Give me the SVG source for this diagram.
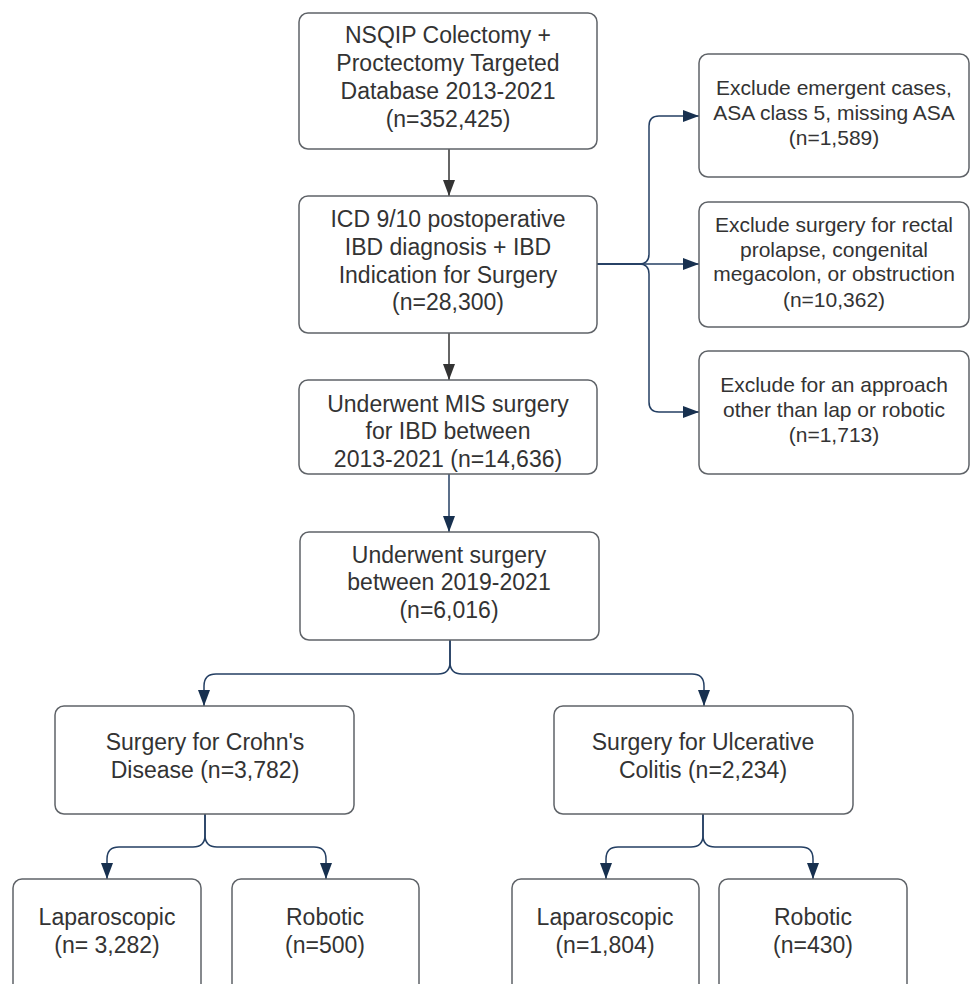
<svg xmlns="http://www.w3.org/2000/svg" width="970" height="984" viewBox="0 0 970 984">
<style>
.box{fill:#ffffff;stroke:#5f6368;stroke-width:1.5}
.t{font-family:"Liberation Sans",Arial,sans-serif;font-size:23px;fill:#333333;text-anchor:middle}
.s{font-family:"Liberation Sans",Arial,sans-serif;font-size:21px;fill:#333333;text-anchor:middle}
.cg{fill:none;stroke:#333333;stroke-width:1.5}
.cn{fill:none;stroke:#243f63;stroke-width:1.5}
</style>
<defs>
<marker id="ag" markerUnits="userSpaceOnUse" markerWidth="16" markerHeight="12" refX="16" refY="6" orient="auto">
<path d="M0,0 L16,6 L0,12 z" fill="#333333"/>
</marker>
<marker id="an" markerUnits="userSpaceOnUse" markerWidth="16" markerHeight="12" refX="16" refY="6" orient="auto">
<path d="M0,0 L16,6 L0,12 z" fill="#17304f"/>
</marker>
</defs>
<rect width="970" height="984" fill="#ffffff"/>
<g id="connectors">
<path class="cg" d="M449,149 V196" marker-end="url(#ag)"/>
<path class="cg" d="M449,333 V380" marker-end="url(#ag)"/>
<path class="cn" d="M449,474 V532" marker-end="url(#an)"/>
<path class="cn" d="M597,264 H639 Q649,264 649,254 V126 Q649,116 659,116 H699" marker-end="url(#an)"/>
<path class="cn" d="M597,264 H699" marker-end="url(#an)"/>
<path class="cn" d="M597,264 H639 Q649,264 649,274 V402 Q649,412 659,412 H699" marker-end="url(#an)"/>
<path class="cn" d="M450,640 V662 Q450,674 438,674 H216 Q204,674 204,686 V706" marker-end="url(#an)"/>
<path class="cn" d="M450,640 V662 Q450,674 462,674 H692 Q704,674 704,686 V706" marker-end="url(#an)"/>
<path class="cn" d="M205,814 V835 Q205,847 193,847 H119 Q107,847 107,859 V879" marker-end="url(#an)"/>
<path class="cn" d="M205,814 V835 Q205,847 217,847 H314 Q326,847 326,859 V879" marker-end="url(#an)"/>
<path class="cn" d="M703,814 V835 Q703,847 691,847 H618 Q606,847 606,859 V879" marker-end="url(#an)"/>
<path class="cn" d="M703,814 V835 Q703,847 715,847 H801 Q813,847 813,859 V879" marker-end="url(#an)"/>
</g>
<g id="n1">
<rect class="box" x="299" y="13" width="298" height="136" rx="9"/>
<text class="t" x="448" y="43">NSQIP Colectomy +</text>
<text class="t" x="448" y="71">Proctectomy Targeted</text>
<text class="t" x="448" y="99">Database 2013-2021</text>
<text class="t" x="448" y="127">(n=352,425)</text>
</g>
<g id="n2">
<rect class="box" x="299" y="196" width="298" height="137" rx="9"/>
<text class="t" x="448" y="227">ICD 9/10 postoperative</text>
<text class="t" x="448" y="255">IBD diagnosis + IBD</text>
<text class="t" x="448" y="283">Indication for Surgery</text>
<text class="t" x="448" y="310">(n=28,300)</text>
</g>
<g id="n3">
<rect class="box" x="299" y="380" width="298" height="94" rx="9"/>
<text class="t" x="448" y="412">Underwent MIS surgery</text>
<text class="t" x="448" y="439">for IBD between</text>
<text class="t" x="448" y="467">2013-2021 (n=14,636)</text>
</g>
<g id="n4">
<rect class="box" x="300" y="532" width="299" height="108" rx="9"/>
<text class="t" x="449" y="563">Underwent surgery</text>
<text class="t" x="449" y="590">between 2019-2021</text>
<text class="t" x="449" y="618">(n=6,016)</text>
</g>
<g id="e1">
<rect class="box" x="699" y="54" width="270" height="123" rx="9"/>
<text class="s" x="834" y="95">Exclude emergent cases,</text>
<text class="s" x="834" y="120">ASA class 5, missing ASA</text>
<text class="s" x="834" y="145">(n=1,589)</text>
</g>
<g id="e2">
<rect class="box" x="699" y="202" width="270" height="125" rx="9"/>
<text class="s" x="834" y="232">Exclude surgery for rectal</text>
<text class="s" x="834" y="257">prolapse, congenital</text>
<text class="s" x="834" y="281">megacolon, or obstruction</text>
<text class="s" x="834" y="307">(n=10,362)</text>
</g>
<g id="e3">
<rect class="box" x="699" y="351" width="270" height="123" rx="9"/>
<text class="s" x="834" y="392">Exclude for an approach</text>
<text class="s" x="834" y="417">other than lap or robotic</text>
<text class="s" x="834" y="442">(n=1,713)</text>
</g>
<g id="cd">
<rect class="box" x="55" y="706" width="299" height="108" rx="9"/>
<text class="t" x="205" y="750">Surgery for Crohn's</text>
<text class="t" x="205" y="778">Disease (n=3,782)</text>
</g>
<g id="uc">
<rect class="box" x="554" y="706" width="299" height="108" rx="9"/>
<text class="t" x="703" y="750">Surgery for Ulcerative</text>
<text class="t" x="703" y="778">Colitis (n=2,234)</text>
</g>
<g id="lap1">
<rect class="box" x="13" y="879" width="188" height="130" rx="9"/>
<text class="t" x="107" y="925">Laparoscopic</text>
<text class="t" x="107" y="953">(n= 3,282)</text>
</g>
<g id="rob1">
<rect class="box" x="232" y="879" width="187" height="130" rx="9"/>
<text class="t" x="325" y="925">Robotic</text>
<text class="t" x="325" y="953">(n=500)</text>
</g>
<g id="lap2">
<rect class="box" x="512" y="879" width="187" height="130" rx="9"/>
<text class="t" x="605" y="925">Laparoscopic</text>
<text class="t" x="605" y="953">(n=1,804)</text>
</g>
<g id="rob2">
<rect class="box" x="719" y="879" width="188" height="130" rx="9"/>
<text class="t" x="813" y="925">Robotic</text>
<text class="t" x="813" y="953">(n=430)</text>
</g>
</svg>
